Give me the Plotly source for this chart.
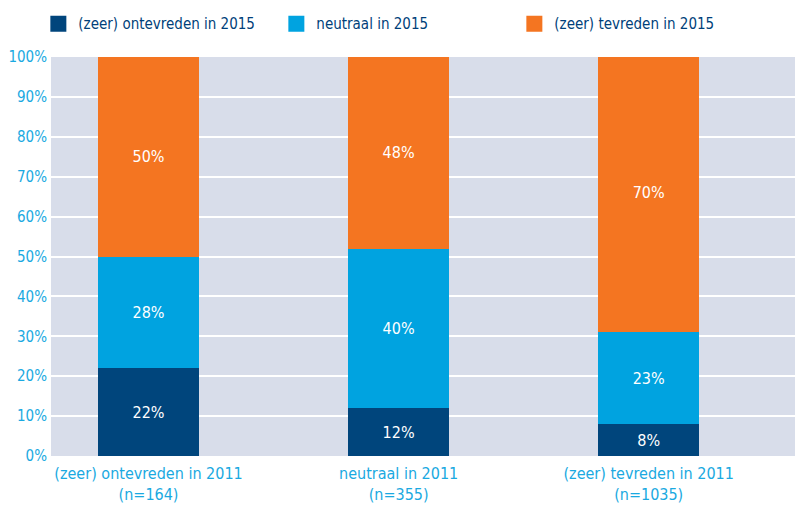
import plotly.graph_objects as go

categories = ["(zeer) ontevreden in 2011<br>(n=164)", "neutraal in 2011<br>(n=355)", "(zeer) tevreden in 2011<br>(n=1035)"]
series_names = ["(zeer) ontevreden in 2015", "neutraal in 2015", "(zeer) tevreden in 2015"]
ontevreden = [22, 12, 8]
neutraal = [28, 40, 23]
tevreden = [50, 48, 70]
colors = ["#00457c", "#00a3e0", "#f47521"]
tick_vals = [0, 10, 20, 30, 40, 50, 60, 70, 80, 90, 100]
tick_text = [f"{v}%" for v in tick_vals]

font_family = "DejaVu Sans Condensed, Liberation Sans Narrow, sans-serif"

fig = go.Figure()
for name, vals, col in zip(series_names, [ontevreden, neutraal, tevreden], colors):
    fig.add_trace(go.Bar(
        x=list(range(len(categories))), y=vals, name=name,
        marker=dict(color=col, line=dict(width=0)),
        text=[f"{v}%" for v in vals], textposition="inside",
        insidetextanchor="middle",
        textfont=dict(color="white", size=16, family=font_family),
        width=0.405, showlegend=False,
    ))
# legend entries with larger square swatches
for name, col in zip(series_names, colors):
    fig.add_trace(go.Scatter(
        x=[None], y=[None], mode="markers", name=name,
        marker=dict(symbol="square", size=16, color=col), showlegend=True,
    ))

fig.update_layout(
    barmode="stack",
    width=795, height=509,
    margin=dict(l=51, r=0, t=57, b=53, autoexpand=False),
    paper_bgcolor="white",
    plot_bgcolor="#d8ddea",
    showlegend=True,
    legend=dict(orientation="h", x=-0.017, xanchor="left", y=1.083, yanchor="middle",
                font=dict(family=font_family, size=15, color="#003f7a"),
                traceorder="normal", itemwidth=30, itemsizing="trace",
                entrywidth=193, entrywidthmode="pixels",
                bgcolor="rgba(0,0,0,0)"),
    font=dict(family=font_family),
)
fig.update_xaxes(
    tickmode="array", tickvals=list(range(len(categories))), ticktext=categories,
    range=[-0.39, 2.585], showgrid=False, zeroline=False, automargin=False,
    tickfont=dict(family=font_family, size=16, color="#1aa9e1"),
    ticks="", showline=False, ticklabelstandoff=6,
)
fig.update_yaxes(
    range=[0, 100], tickmode="array", tickvals=tick_vals, ticktext=tick_text,
    showgrid=True, gridcolor="white", gridwidth=2, zeroline=False, automargin=False,
    tickfont=dict(family=font_family, size=15, color="#1aa9e1"),
    ticks="", showline=False, ticklabelstandoff=3,
)
fig.write_html("out.html", config={"displayModeBar": False},
               post_script="document.body.style.margin='0';")
